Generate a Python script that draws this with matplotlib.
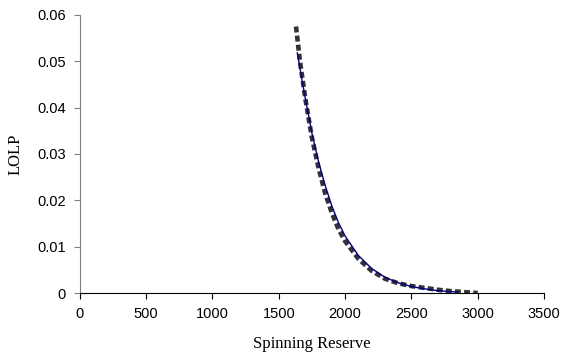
import matplotlib
matplotlib.use("Agg")
import matplotlib.pyplot as plt

# simulated LOLP (thick dashed) and analytic fit (thin blue)
sim_x = [1630, 1660, 1700, 1750, 1800, 1850, 1900, 1950, 2000, 2100,
         2200, 2300, 2400, 2500, 2600, 2700, 2800, 2900, 3000]
sim_y = [0.0575, 0.0500, 0.0420, 0.0335, 0.0270, 0.0215, 0.0173, 0.0138,
         0.0112, 0.0074, 0.0048, 0.0031, 0.0021, 0.0015, 0.0011, 0.0007,
         0.0004, 0.0002, 0.0000]

fit_x = [1640, 1700, 1750, 1800, 1850, 1900, 1950, 2000, 2100, 2200,
         2300, 2400, 2500, 2600, 2700, 2850]
fit_y = [0.0518, 0.0420, 0.0345, 0.0283, 0.0232, 0.0188, 0.0152, 0.0123,
         0.0081, 0.0053, 0.0034, 0.0022, 0.0014, 0.0009, 0.0005, 0.0002]

xticks = [0, 500, 1000, 1500, 2000, 2500, 3000, 3500]
yticks = [0, 0.01, 0.02, 0.03, 0.04, 0.05, 0.06]

fig = plt.figure(figsize=(5.62, 3.64), dpi=100)
ax = fig.add_axes([0.142, 0.195, 0.826, 0.764])

ax.plot(sim_x, sim_y, color="#333333", lw=3.3, ls=(0, (1.3, 0.7)), zorder=2)
ax.plot(fit_x, fit_y, color="#000080", lw=1.0, zorder=3)

ax.set_xlim(0, 3500)
ax.set_ylim(0, 0.06)
ax.set_xticks(xticks)
ax.set_yticks(yticks)
ax.set_xticklabels([str(t) for t in xticks])
ax.set_yticklabels(["0"] + [f"{t:.2f}" for t in yticks[1:]])

for s in ("top", "right"):
    ax.spines[s].set_visible(False)
ax.spines["left"].set_color("#808080")
ax.spines["bottom"].set_color("black")
ax.tick_params(direction="out", length=4, width=0.8, labelsize=10.5,
               pad=6)
ax.tick_params(axis="y", colors="#808080", labelcolor="black")
for lab in ax.get_xticklabels() + ax.get_yticklabels():
    lab.set_family("Liberation Sans")

ax.set_xlabel("Spinning Reserve", family="Liberation Serif", fontsize=12,
              labelpad=11)
ax.set_ylabel("LOLP", family="Liberation Serif", fontsize=12, labelpad=10)

fig.savefig("out.png", dpi=100)
